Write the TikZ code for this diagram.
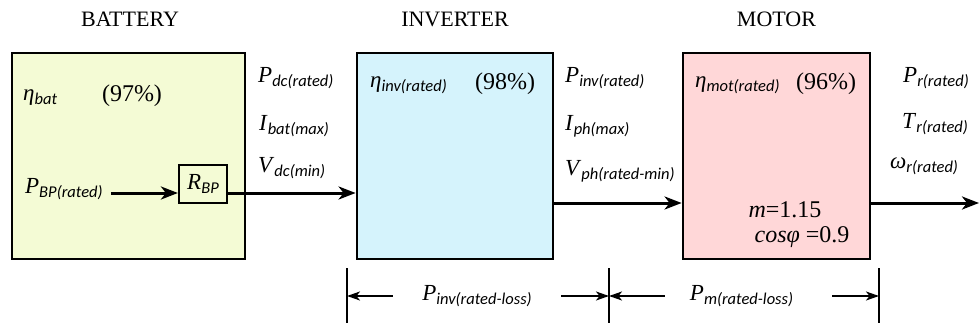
\documentclass[tikz,border=0pt]{standalone}
\usepackage{fontspec}
\setmainfont{Liberation Serif}
\newfontfamily\subfont{Carlito}
\usetikzlibrary{arrows.meta, calc}
\definecolor{batfill}{HTML}{F4FBD5}
\definecolor{invfill}{HTML}{D5F3FC}
\definecolor{motfill}{HTML}{FFD7D8}

% symbol with a sans italic subscript
\newcommand{\vsub}[2]{\textit{#1}\raisebox{-4pt}{\subfont\itshape\fontsize{16.5}{16}\selectfont #2}}

\begin{document}
\begin{tikzpicture}[x=1pt, y=-1pt,
  block/.style={draw, line width=2.8pt, inner sep=0pt, minimum height=206pt},
  flow/.style={line width=3pt, -{Stealth[length=17pt, width=13pt, inset=5pt]}},
  dimline/.style={line width=1.6pt, -{Stealth[length=13pt, width=9pt, inset=3.5pt]}},
  dimtick/.style={line width=2pt},
  ttl/.style={font=\fontsize{22}{26}\selectfont, anchor=base},
  qty/.style={font=\fontsize{23}{26}\selectfont, anchor=base west, inner sep=0pt},
  pct/.style={font=\fontsize{24}{28}\selectfont, anchor=base, inner sep=0pt}]

\useasboundingbox (0,0) rectangle (979,329);

% Titles
\node[ttl] (tbat) at (130,27) {BATTERY};
\node[ttl] (tinv) at (455,27) {INVERTER};
\node[ttl] (tmot) at (776.5,27) {MOTOR};

% Blocks
\node[block, fill=batfill, minimum width=233pt] (bat) at (128.5,156) {};
\node[block, fill=invfill, minimum width=196pt] (inv) at (455,156) {};
\node[block, fill=motfill, minimum width=187pt] (mot) at (776.5,156) {};

% --- Battery ---
\node[qty] (etabat) at (23,100) {\vsub{η}{bat}};
\node[pct] (effbat) at (132,101) {(97\%)};
\node[qty] (pbp) at (25,193) {\vsub{P}{BP(rated)}};
\node[draw, line width=2.2pt, minimum width=48pt, minimum height=38pt,
      inner sep=0pt, font=\fontsize{23}{26}\selectfont] (rbp) at (203,184) {\vsub{R}{BP}};
\node[qty] (pdc) at (258,82) {\vsub{P}{dc(rated)}};
\node[qty] (ibat) at (259,130) {\vsub{I}{bat(max)}};
\node[qty] (vdc) at (258,172) {\vsub{V}{dc(min)}};

\draw[flow] ([xshift=8pt]pbp.base east) -- (rbp.west |- pbp.base);
\draw[flow] (rbp.east |- pbp.base) -- (inv.west |- pbp.base);

% --- Inverter ---
\node[qty] (etainv) at (370,88) {\vsub{η}{inv(rated)}};
\node[pct] (effinv) at (505,89) {(98\%)};
\node[qty] (pinv) at (565,82) {\vsub{P}{inv(rated)}};
\node[qty] (iph) at (565,130) {\vsub{I}{ph(max)}};
\node[qty] (vph) at (565,175) {\vsub{V}{ph(rated-min)}};

\coordinate (acbus) at (615,203);
\draw[flow] (inv.east |- acbus) -- (mot.west |- acbus);

% --- Motor ---
\node[qty] (etamot) at (695,88) {\vsub{η}{mot(rated)}};
\node[pct] (effmot) at (826,89) {(96\%)};
\node[pct] (mod) at (785,217) {\textit{m}=1.15};
\node[pct] (pf) at (802,242) {\textit{cosφ} =0.9};
\node[qty] (pr) at (903,82) {\vsub{P}{r(rated)}};
\node[qty] (tr) at (902,128) {\vsub{T}{r(rated)}};
\node[qty] (wr) at (890,168) {\vsub{ω}{r(rated)}};

\coordinate (shaft) at (979,203);
\draw[flow] (mot.east |- shaft) -- (shaft);

% Loss dimensions
\coordinate (d1) at (347,296);
\coordinate (d2) at (609,296);
\coordinate (d3) at (879,296);
\foreach \c in {d1,d2,d3}
  \draw[dimtick] ([yshift=28pt]\c) -- ([yshift=-27pt]\c);

\node[minimum width=168pt, inner sep=0pt, font=\fontsize{23}{26}\selectfont]
  (linv) at (477,296) {\vsub{P}{inv(rated-loss)}};
\node[minimum width=167pt, inner sep=0pt, font=\fontsize{23}{26}\selectfont]
  (lmot) at (748.5,296) {\vsub{P}{m(rated-loss)}\hspace*{14pt}};
\draw[dimline] (linv.west) -- (d1);
\draw[dimline] (linv.east) -- (d2);
\draw[dimline] (lmot.west) -- (d2);
\draw[dimline] (lmot.east) -- (d3);

\end{tikzpicture}
\end{document}
